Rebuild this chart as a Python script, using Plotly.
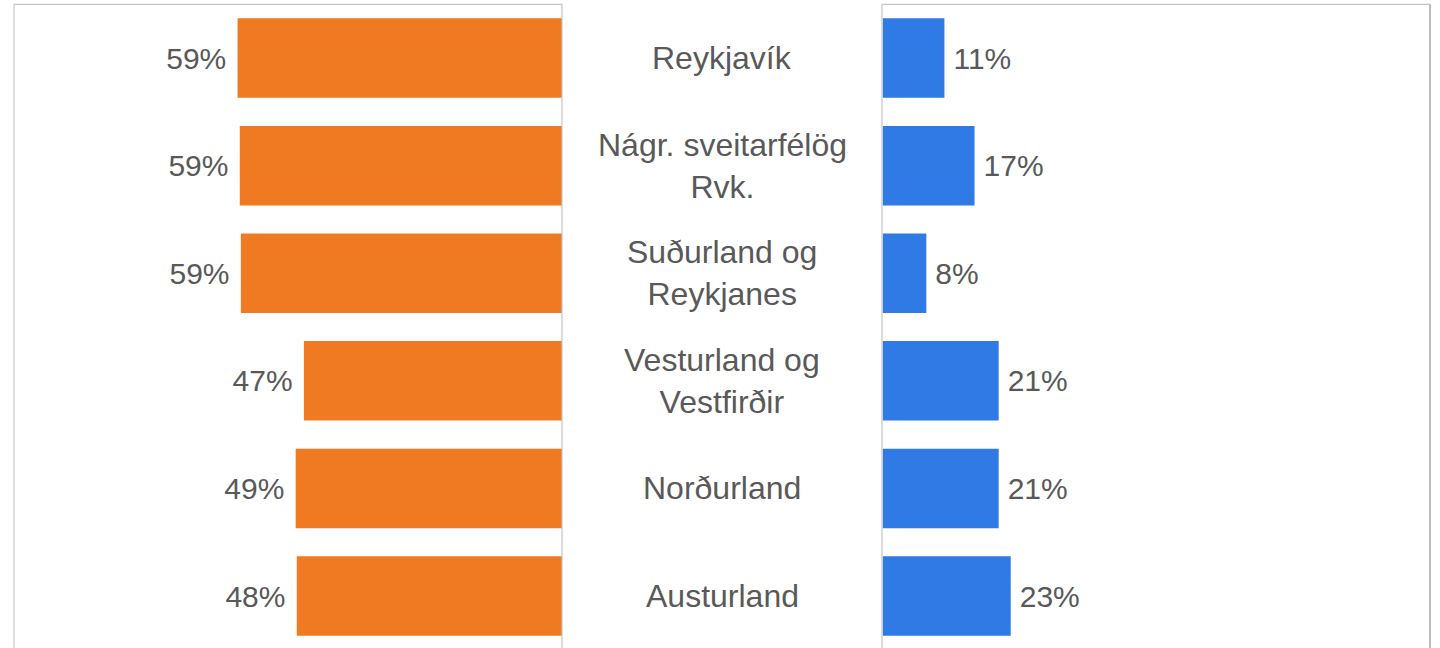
import plotly.graph_objects as go

# ---- data ----
categories = [
    "Reykjavík",
    "Nágr. sveitarfélög<br>Rvk.",
    "Suðurland og<br>Reykjanes",
    "Vesturland og<br>Vestfirðir",
    "Norðurland",
    "Austurland",
]
left_values = [59.2, 58.8, 58.6, 47.1, 48.6, 48.4]    # orange series (%)
right_values = [11.3, 16.8, 8.0, 21.2, 21.2, 23.4]    # blue series (%)

ORANGE = "#F07A22"
BLUE = "#2F7AE5"
TEXT = "#595959"
FONT = "Arial, Liberation Sans, sans-serif"

W, H = 1440, 648
px = lambda v: v / W
py = lambda v: 1 - v / H

fig = go.Figure()

fig.add_trace(go.Bar(
    y=categories, x=left_values, orientation="h",
    xaxis="x", yaxis="y",
    marker=dict(color=ORANGE, line=dict(width=0)),
    width=0.739,
    texttemplate="%{x:.0f}%\u00a0",
    textposition="outside",
    textfont=dict(color=TEXT, size=30, family=FONT),
    cliponaxis=False,
    hoverinfo="skip",
))
fig.add_trace(go.Bar(
    y=categories, x=right_values, orientation="h",
    xaxis="x2", yaxis="y",
    marker=dict(color=BLUE, line=dict(width=0)),
    width=0.739,
    texttemplate="\u2009%{x:.0f}%",
    textposition="outside",
    textfont=dict(color=TEXT, size=30, family=FONT),
    cliponaxis=False,
    hoverinfo="skip",
))

# center category labels
for c in categories:
    fig.add_annotation(
        x=0.5 * (px(562) + px(882)), xref="paper",
        y=c, yref="y",
        text=c, showarrow=False,
        font=dict(color=TEXT, size=32, family=FONT),
        xanchor="center", yanchor="middle",
    )

# panel frames (bottom edge is off-page)
top = py(4.3)
line_specs = [
    (px(14), top, px(14), -0.1, "#d4d4d4", 1.5),
    (px(14), top, px(562), top, "#c4c4c4", 1.2),
    (px(562), top, px(562), -0.1, "#c4c4c4", 1.2),
    (px(882), top, px(882), -0.1, "#c4c4c4", 1.2),
    (px(882), top, px(1430), top, "#c4c4c4", 1.2),
    (px(1430), top, px(1430), -0.1, "#bcbcbc", 2),
]
for x0, y0, x1, y1, col, w in line_specs:
    fig.add_shape(type="line", xref="paper", yref="paper",
                  x0=x0, y0=y0, x1=x1, y1=y1,
                  line=dict(color=col, width=w), layer="above")

fig.update_layout(
    width=W, height=H,
    margin=dict(l=0, r=0, t=0, b=0),
    paper_bgcolor="white", plot_bgcolor="white",
    showlegend=False,
    barmode="overlay",
    xaxis=dict(domain=[px(14), px(562)], range=[100, 0], anchor="y",
               showgrid=False, zeroline=False, showticklabels=False, showline=False),
    xaxis2=dict(domain=[px(882.5), px(1430.5)], range=[0, 100], anchor="y",
                showgrid=False, zeroline=False, showticklabels=False, showline=False),
    yaxis=dict(domain=[0, top], range=[5.483, -0.5], type="category",
               showgrid=False, zeroline=False, showticklabels=False, showline=False),
)

fig.write_html(
    "out.html",
    config={"displayModeBar": False},
    post_script="document.body.style.margin='0';document.body.style.overflow='hidden';",
)
